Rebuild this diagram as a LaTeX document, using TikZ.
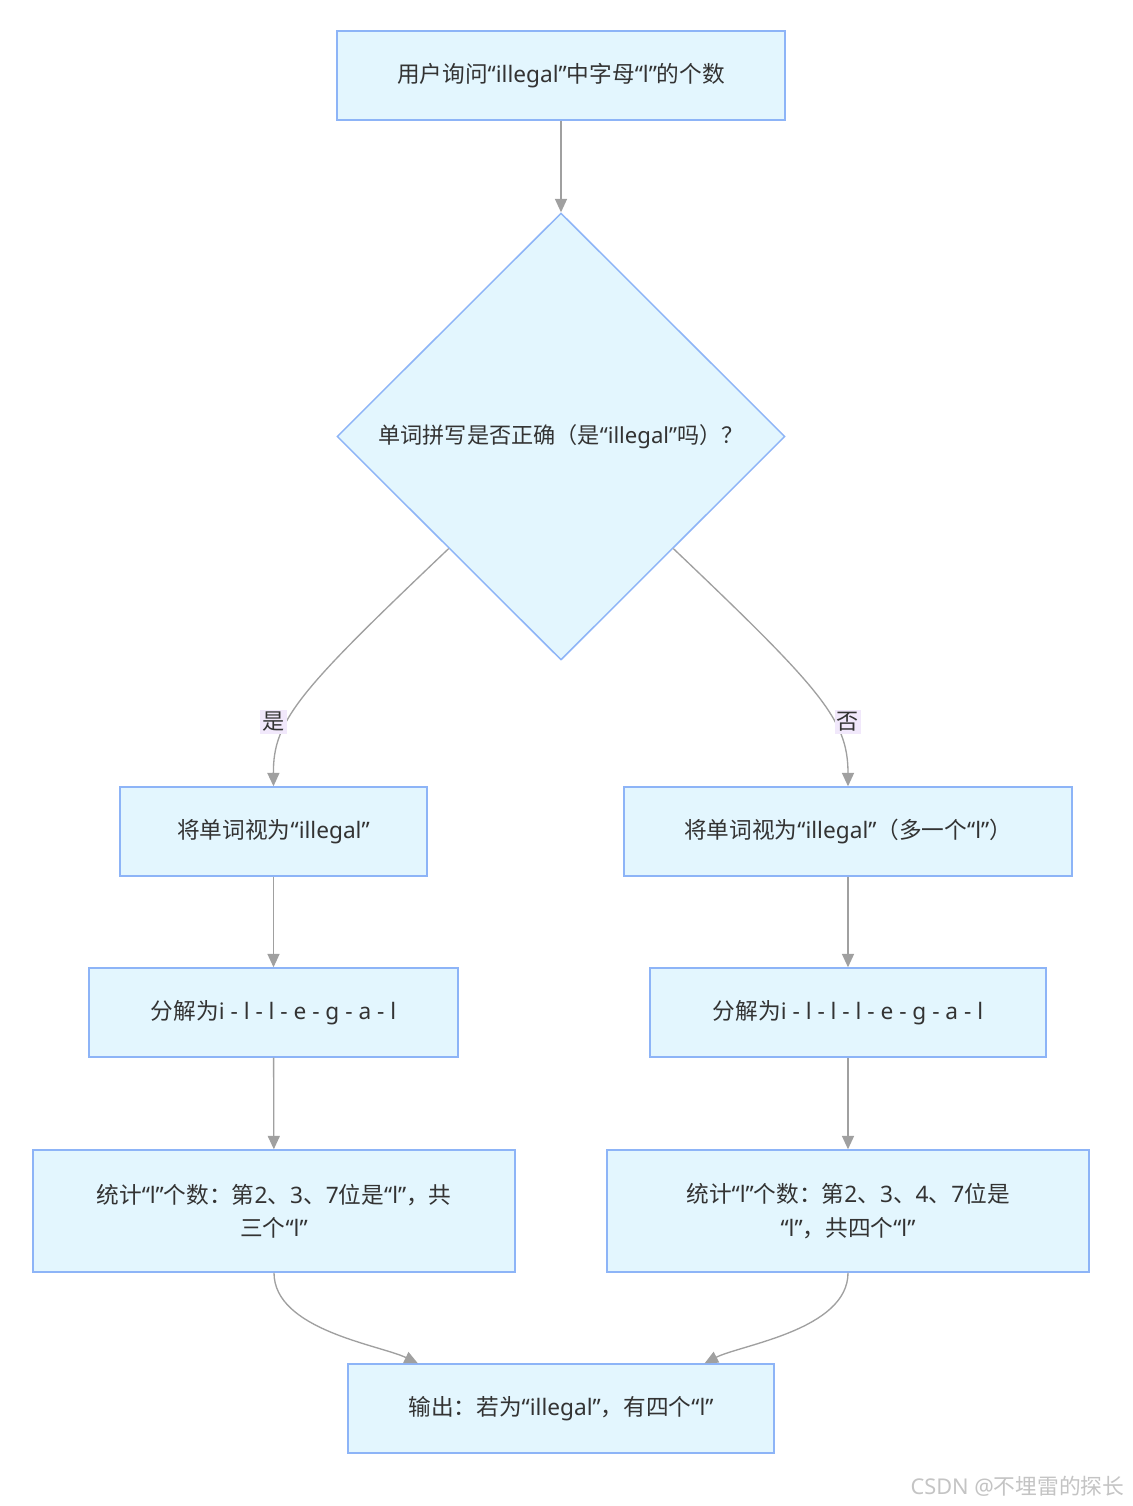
\documentclass[tikz,border=0pt]{standalone}
\usepackage{fontspec}
\setmainfont{Noto Sans CJK SC}
\newfontfamily\latf{Noto Sans}
\newcommand{\lat}[1]{{\latf #1}}
\usetikzlibrary{shapes.geometric,arrows.meta,calc}
\definecolor{boxfill}{HTML}{E3F6FE}
\definecolor{boxline}{HTML}{8DB4F7}
\definecolor{edgecol}{HTML}{A0A0A0}
\definecolor{txtcol}{HTML}{333333}
\definecolor{lblbg}{HTML}{F1E8FB}
\definecolor{wmcol}{HTML}{C4C4C4}
\tikzset{
  flowbox/.style={draw=boxline, fill=boxfill, line width=1.1pt, rectangle,
    minimum height=89*0.75pt, inner sep=0pt, text=txtcol, font=\fontsize{17pt}{25pt}\selectfont, align=center},
  decide/.style={draw=boxline, fill=boxfill, line width=1.1pt, diamond, aspect=1,
    minimum width=448*0.75pt, minimum height=447*0.75pt, inner sep=0pt, text=txtcol, font=\fontsize{16.6pt}{22pt}\selectfont},
  conn/.style={draw=edgecol, line width=1pt, -{Triangle[length=10pt,width=9pt]}, color=edgecol},
  elabel/.style={fill=lblbg, text=txtcol, inner sep=1.5pt, font=\fontsize{16.6pt}{18pt}\selectfont}
}
\begin{document}
\begin{tikzpicture}[x=0.75pt,y=-0.75pt]
\useasboundingbox (0,0) rectangle (1132,1506);
\fill[white] (0,0) rectangle (1132,1506);

\node[flowbox, minimum width=448*0.75pt] (q) at (561,75.5) {用户询问\lat{“illegal”}中字母\lat{“l”}的个数};
\node[decide] (d) at (561,436.5) {单词拼写是否正确（是\lat{“illegal”}吗）？};
\node[flowbox, minimum width=307*0.75pt] (ly) at (273.5,831.5) {将单词视为\lat{“illegal”}};
\node[flowbox, minimum width=448*0.75pt] (ry) at (848,831.5) {将单词视为\lat{“illegal”}（多一个\lat{“l”}）};
\node[flowbox, minimum width=369*0.75pt] (ls) at (273.5,1012.5) {分解为\lat{i - l - l - e - g - a - l}};
\node[flowbox, minimum width=396*0.75pt] (rs) at (848,1012.5) {分解为\lat{i - l - l - l - e - g - a - l}};
\node[flowbox, minimum width=482*0.75pt, minimum height=122*0.75pt] (lc) at (274,1211) {统计\lat{“l”}个数：第\lat{2}、\lat{3}、\lat{7}位是\lat{“l”}，共\\三个\lat{“l”}};
\node[flowbox, minimum width=482*0.75pt, minimum height=122*0.75pt] (rc) at (848,1211) {统计\lat{“l”}个数：第\lat{2}、\lat{3}、\lat{4}、\lat{7}位是\\\lat{“l”}，共四个\lat{“l”}};
\node[flowbox, minimum width=426*0.75pt] (out) at (561,1408.5) {输出：若为\lat{“illegal”}，有四个\lat{“l”}};

\coordinate (dl) at ($(d.west)!0.5!(d.south)$);
\coordinate (dr) at ($(d.east)!0.5!(d.south)$);

\draw[conn] (q) -- (d.north);
\draw[conn] (dl) .. controls (300,690) and (273,720) .. (ly.north);
\draw[conn] (dr) .. controls (822,690) and (848,720) .. (ry.north);
\draw[conn] (ly) -- (ls);
\draw[conn] (ry) -- (rs);
\draw[conn] (ls) -- (lc);
\draw[conn] (rs) -- (rc);
\draw[conn] (lc.south) .. controls (274,1330) and (380,1345) .. ($(out.north west)!0.165!(out.north east)$);
\draw[conn] (rc.south) .. controls (848,1330) and (740,1345) .. ($(out.north west)!0.836!(out.north east)$);

\node[elabel] (lyes) at (273.5,722) {是};
\node[elabel] (lno) at (848,722) {否};

\node[text=wmcol, font=\fontsize{16.3pt}{18pt}\selectfont, anchor=east] (wm) at (1129,1486) {\lat{CSDN @}不埋雷的探长};
\end{tikzpicture}
\end{document}
